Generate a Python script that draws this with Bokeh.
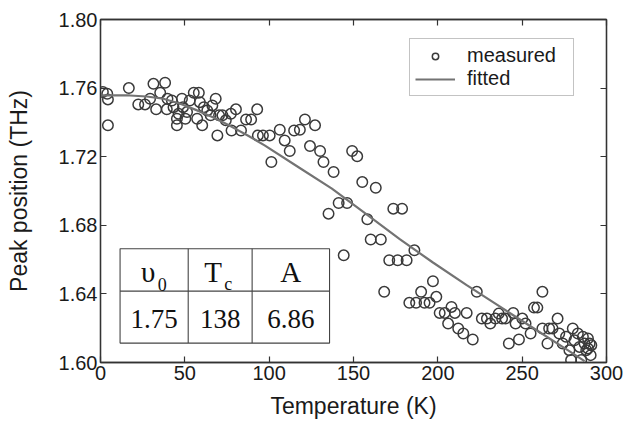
from bokeh.plotting import figure
from bokeh.models import LinearAxis, Range1d, Legend, LegendItem, FixedTicker, CustomJSTickFormatter
from bokeh.core.properties import value
from bokeh.embed import file_html
from bokeh.resources import INLINE

# measured data (Temperature K, Peak position THz)
temperature = [1.4, 4.0, 4.4, 4.4, 16.8, 22.4, 26.4, 29.4, 31.4, 33.0, 35.4, 38.3, 39.3, 39.7, 42.3,
               43.3, 45.3, 45.3, 46.3, 48.3, 48.9, 50.3, 51.3, 52.9, 55.3, 57.3, 58.3, 58.9, 60.3, 61.3,
               63.3, 65.3, 66.3, 68.3, 69.3, 70.3, 72.3, 74.3, 77.3, 77.7, 80.3, 83.3, 86.3, 89.3, 92.9,
               93.3, 96.3, 100.3, 101.3, 106.3, 109.2, 112.2, 114.8, 118.2, 121.2, 124.2, 127.2, 130.2, 132.2, 138.2,
               135.2, 141.2, 146.2, 144.2, 149.2, 152.2, 155.2, 158.2, 160.2, 163.2, 166.2, 168.2, 171.2, 173.6, 176.2,
               178.8, 181.5, 186.1, 183.1, 187.1, 190.1, 192.1, 195.1, 197.1, 199.1, 201.1, 204.1, 206.1, 208.1, 210.1,
               212.1, 215.1, 217.1, 220.7, 223.1, 226.1, 229.1, 231.1, 234.1, 236.1, 238.1, 240.1, 242.1, 244.7, 246.1,
               248.1, 250.1, 252.0, 255.0, 257.0, 259.0, 262.0, 262.0, 265.0, 266.0, 268.0, 271.0, 272.0, 274.0, 276.0,
               278.0, 279.0, 280.0, 281.0, 283.0, 284.0, 285.0, 286.0, 287.0, 288.0, 289.0, 290.0, 290.6, 291.0, 289.0]
peak = [1.7577, 1.7567, 1.7534, 1.7383, 1.7600, 1.7505, 1.7505, 1.7538, 1.7625, 1.7476, 1.7573, 1.7631, 1.7476, 1.7538, 1.7528,
        1.7489, 1.7383, 1.7421, 1.7450, 1.7538, 1.7489, 1.7421, 1.7460, 1.7528, 1.7573, 1.7421, 1.7573, 1.7518, 1.7383, 1.7489,
        1.7470, 1.7441, 1.7499, 1.7538, 1.7324, 1.7441, 1.7441, 1.7412, 1.7450, 1.7353, 1.7476, 1.7353, 1.7417, 1.7417, 1.7476,
        1.7324, 1.7324, 1.7324, 1.7169, 1.7357, 1.7295, 1.7233, 1.7353, 1.7357, 1.7417, 1.7262, 1.7383, 1.7233, 1.7169, 1.7111,
        1.6868, 1.6930, 1.6930, 1.6625, 1.7233, 1.7202, 1.7052, 1.6835, 1.6717, 1.7019, 1.6717, 1.6412, 1.6596, 1.6897, 1.6596,
        1.6897, 1.6596, 1.6654, 1.6348, 1.6348, 1.6412, 1.6348, 1.6348, 1.6474, 1.6383, 1.6289, 1.6289, 1.6227, 1.6324, 1.6289,
        1.6198, 1.6169, 1.6289, 1.6134, 1.6412, 1.6256, 1.6256, 1.6227, 1.6256, 1.6285, 1.6256, 1.6256, 1.6111, 1.6289, 1.6227,
        1.6134, 1.6256, 1.6227, 1.6169, 1.6320, 1.6320, 1.6412, 1.6198, 1.6111, 1.6198, 1.6198, 1.6256, 1.6169, 1.6111, 1.6150,
        1.6072, 1.6014, 1.6198, 1.6130, 1.6169, 1.6091, 1.6014, 1.6150, 1.6111, 1.6072, 1.6140, 1.6111, 1.6043, 1.6101, 1.6082]

# fitted curve
fit_temperature = [0, 17.4, 27.4, 37.3, 47.3, 57.3, 67.3, 77.3, 87.3, 97.3, 117.2, 137.2, 157.2,
                   177.2, 197.1, 217.1, 237.1, 257.0, 277.0, 287.0]
fit_peak = [1.7557, 1.7557, 1.7551, 1.7538, 1.7509, 1.7470, 1.7427, 1.7377, 1.7324, 1.7266, 1.7140,
            1.7014, 1.6868, 1.6721, 1.6583, 1.6451, 1.6324, 1.6198, 1.6072, 1.6008]

# fit parameter table
table_headers = ["\u03c5", "T", "A"]
table_subscripts = ["0", "c", ""]
table_values = ["1.75", "138", "6.86"]

x_ticks = [0, 50, 100, 150, 200, 250, 300]
y_ticks = [1.60, 1.64, 1.68, 1.72, 1.76, 1.80]

SANS = "Liberation Sans"
SERIF = "Liberation Serif"

p = figure(width=625, height=422, x_range=Range1d(0, 300), y_range=Range1d(1.60, 1.80),
           output_backend="svg", toolbar_location=None,
           min_border_left=100, min_border_right=19, min_border_top=19, min_border_bottom=60)
p.xgrid.visible = False
p.ygrid.visible = False
p.outline_line_color = "#333333"
p.outline_line_width = 1.3
p.background_fill_color = "white"
p.border_fill_color = "white"

def style_axis(ax, ticks, show_labels):
    ax.ticker = FixedTicker(ticks=ticks)
    ax.major_tick_in = 6
    ax.major_tick_out = 0
    ax.minor_tick_line_color = None
    ax.major_tick_line_color = "#333333"
    ax.major_tick_line_width = 1.2
    ax.axis_line_color = "#333333"
    ax.axis_line_width = 1.3
    if show_labels:
        ax.major_label_text_font = SANS
        ax.major_label_text_font_size = "20px"
        ax.major_label_text_color = "#1a1a1a"
        ax.major_label_standoff = 3
        ax.axis_label_text_font = SANS
        ax.axis_label_text_font_size = "23px"
        ax.axis_label_text_font_style = "normal"
        ax.axis_label_text_color = "#1a1a1a"
    else:
        ax.major_label_text_font_size = "0px"
        ax.major_label_standoff = 0
        ax.formatter = CustomJSTickFormatter(code="return ''")

style_axis(p.xaxis[0], x_ticks, True)
p.xaxis[0].axis_label = "Temperature (K)"
p.xaxis[0].axis_label_standoff = 10
p.xaxis[0].formatter = CustomJSTickFormatter(code="return tick.toFixed(0)")

style_axis(p.yaxis[0], y_ticks, True)
p.yaxis[0].axis_label = "Peak position (THz)"
p.yaxis[0].axis_label_standoff = 24
p.yaxis[0].formatter = CustomJSTickFormatter(code="return tick.toFixed(2)")

top_ax = LinearAxis()
style_axis(top_ax, x_ticks, False)
p.add_layout(top_ax, "above")
right_ax = LinearAxis()
style_axis(right_ax, y_ticks, False)
p.add_layout(right_ax, "right")

# table inset
col_edges = [11.6, 52.0, 89.9, 135.8]
row_edges = [1.6113, 1.6416, 1.6663]
p.quad(left=[col_edges[0]], right=[col_edges[-1]], bottom=[row_edges[0]], top=[row_edges[-1]],
       fill_color="white", line_color="#444444", line_width=1.1)
p.segment(x0=[col_edges[0], col_edges[1], col_edges[2]], y0=[row_edges[1], row_edges[0], row_edges[0]],
          x1=[col_edges[-1], col_edges[1], col_edges[2]], y1=[row_edges[1], row_edges[2], row_edges[2]],
          line_color="#444444", line_width=1.1)
centers = [(col_edges[i] + col_edges[i + 1]) / 2 for i in range(3)]
p.text(x=centers, y=[1.6525] * 3, text=table_headers, x_offset=[-6, -7, 0],
       text_font=value(SERIF), text_font_size="29px", text_align="center",
       text_baseline="middle", text_color="#111111")
p.text(x=centers, y=[1.6525] * 3, text=table_subscripts, x_offset=[8, 8, 0], y_offset=[12, 12, 0],
       text_font=value(SERIF), text_font_size="18px", text_align="center",
       text_baseline="middle", text_color="#111111")
p.text(x=centers, y=[1.6251] * 3, text=table_values,
       text_font=value(SERIF), text_font_size="27px", text_align="center",
       text_baseline="middle", text_color="#111111")

sc = p.scatter(temperature, peak, marker="circle", size=10.5, fill_color=None,
               line_color="#3a3a3a", line_width=1.5)
ln = p.line(fit_temperature, fit_peak, line_color="#737373", line_width=2.2)

legend = Legend(items=[LegendItem(label="measured", renderers=[sc]),
                       LegendItem(label="fitted", renderers=[ln])],
                location=(309, 266))
legend.border_line_color = "#888888"
legend.border_line_width = 1.3
legend.background_fill_color = "white"
legend.background_fill_alpha = 1.0
legend.label_text_font = SANS
legend.label_text_font_size = "20px"
legend.label_text_color = "#1a1a1a"
legend.glyph_width = 40
legend.glyph_height = 16
legend.label_height = 16
legend.label_width = 101
legend.spacing = 0
legend.padding = 5
legend.label_standoff = 12
legend.margin = 0
p.add_layout(legend)

open("out.html", "w").write(file_html(p, INLINE))
